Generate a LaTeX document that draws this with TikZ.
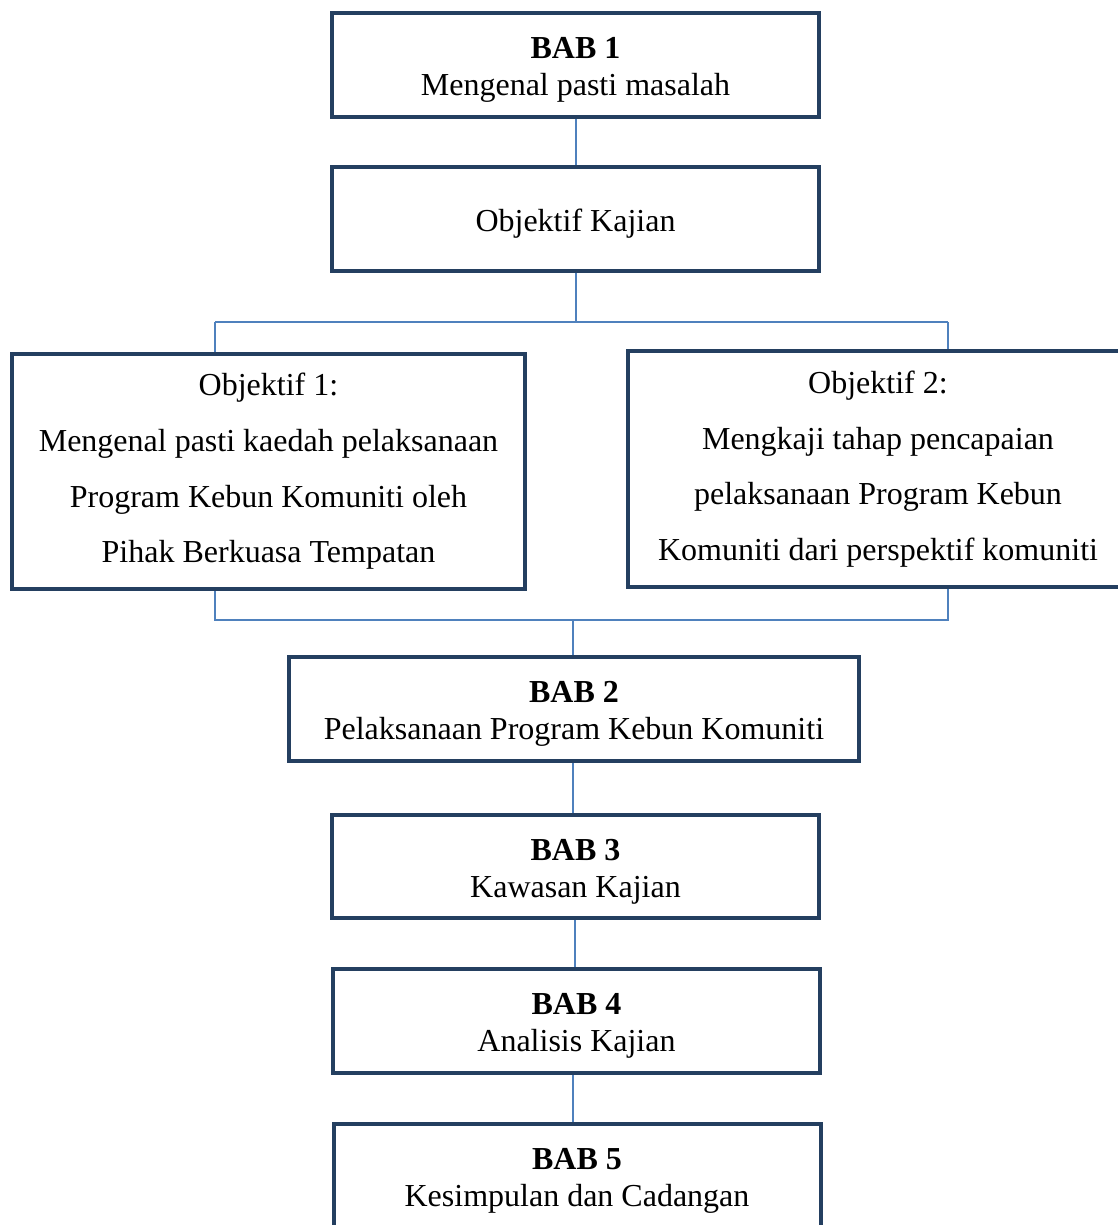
\documentclass[tikz,border=0pt]{standalone}
\usepackage{fontspec}
\setmainfont{Liberation Serif}
\definecolor{boxnavy}{HTML}{243F60}
\definecolor{linkblue}{HTML}{4F81BD}
\newcommand{\chaptxt}[2]{\rule{0pt}{15.6pt}\textbf{#1}\\#2}
\tikzset{
  chapbox/.style={draw=boxnavy, line width=2pt, align=center, inner sep=0pt,
    minimum width=243.5pt, minimum height=52pt, font=\fontsize{16}{18.5}\selectfont},
  objbox/.style={draw=boxnavy, line width=2pt, align=center, inner sep=0pt,
    font=\fontsize{16}{27.8}\selectfont},
  link/.style={draw=linkblue, line width=1pt}
}
\begin{document}
\begin{tikzpicture}[x=0.5pt,y=-0.5pt]
\useasboundingbox (0,0) rectangle (1118,1225);
\clip (0,0) rectangle (1118,1225);
\node[chapbox] (b1) at (575.5,65) {\chaptxt{BAB 1}{Mengenal pasti masalah}};
\node[chapbox] (ok) at (575.5,219) {\rule{0pt}{15.6pt}Objektif Kajian};
\node[objbox, minimum width=256.5pt, minimum height=117.5pt] (o1) at (268.5,471.5)
  {Objektif 1:\\Mengenal pasti kaedah pelaksanaan\\Program Kebun Komuniti oleh\\Pihak Berkuasa Tempatan};
\node[objbox, minimum width=250pt, minimum height=118pt] (o2) at (878,469)
  {Objektif 2:\\Mengkaji tahap pencapaian\\pelaksanaan Program Kebun\\Komuniti dari perspektif komuniti};
\node[chapbox, minimum width=285pt] (b2) at (574,709) {\chaptxt{BAB 2}{Pelaksanaan Program Kebun Komuniti}};
\node[chapbox, minimum height=51.5pt] (b3) at (575.5,866.5) {\chaptxt{BAB 3}{Kawasan Kajian}};
\node[chapbox] (b4) at (576.5,1021) {\chaptxt{BAB 4}{Analisis Kajian}};
\node[chapbox] (b5) at (577,1176) {\chaptxt{BAB 5}{Kesimpulan dan Cadangan}};
% connectors
\coordinate (tl) at (215,322);
\coordinate (tr) at (948,322);
\coordinate (bl) at (215,620);
\coordinate (br) at (948,620);
\draw[link] (b1.south) -- (b1.south |- ok.north);
\draw[link] (ok.south) -- (ok.south |- tl);
\draw[link] (tl) -- (tr);
\draw[link] (tl) -- (tl |- o1.north);
\draw[link] (tr) -- (tr |- o2.north);
\draw[link] (bl |- o1.south) -- (bl) -- (br) -- (br |- o2.south);
\draw[link] (b2.north -| 573,0) -- (573,620);
\draw[link] (b2.south -| 573,0) -- (b3.north -| 573,0);
\draw[link] (b3.south -| 575,0) -- (b4.north -| 575,0);
\draw[link] (b4.south -| 573,0) -- (b5.north -| 573,0);
\end{tikzpicture}
\end{document}
